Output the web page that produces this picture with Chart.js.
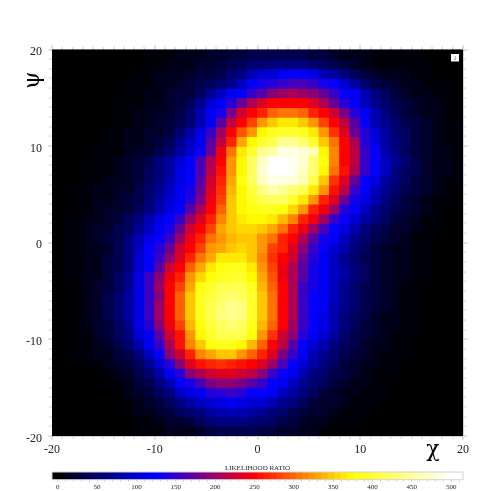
<!DOCTYPE html>
<html><head><meta charset="utf-8">
<script src="https://cdn.jsdelivr.net/npm/chart.js@4"></script>
<style>
html,body{margin:0;padding:0;background:#fff;overflow:hidden}
#a{position:absolute;left:0;top:0}
#b{position:absolute;left:0;top:460px}
</style></head><body>
<canvas id="a" width="498" height="491"></canvas>
<canvas id="b" width="498" height="31"></canvas>
<script>
const chi=[-19.5,-18.5,-17.5,-16.5,-15.5,-14.5,-13.5,-12.5,-11.5,-10.5,-9.5,-8.5,-7.5,-6.5,-5.5,-4.5,-3.5,-2.5,-1.5,-0.5,0.5,1.5,2.5,3.5,4.5,5.5,6.5,7.5,8.5,9.5,10.5,11.5,12.5,13.5,14.5,15.5,16.5,17.5,18.5,19.5];
const psi=[19.5,18.5,17.5,16.5,15.5,14.5,13.5,12.5,11.5,10.5,9.5,8.5,7.5,6.5,5.5,4.5,3.5,2.5,1.5,0.5,-0.5,-1.5,-2.5,-3.5,-4.5,-5.5,-6.5,-7.5,-8.5,-9.5,-10.5,-11.5,-12.5,-13.5,-14.5,-15.5,-16.5,-17.5,-18.5,-19.5];
const likelihood=[
[0,0,0,0,0,0,0,0,0,6,8,8,10,16,16,20,22,28,30,34,36,36,36,36,36,30,28,24,16,14,12,4,4,4,3,3,0,0,0,0],
[0,0,0,0,0,0,0,0,0,6,8,10,14,16,18,24,30,36,42,52,55,58,60,60,58,50,45,38,28,20,15,8,6,6,5,4,2,0,0,0],
[0,0,0,0,0,0,0,0,6,8,10,12,16,20,26,32,40,52,65,85,100,105,122,125,122,108,90,80,60,45,32,22,16,13,10,7,4,0,0,0],
[0,0,0,0,0,0,0,5,8,8,12,15,22,26,35,42,55,72,95,120,135,145,152,158,158,150,135,125,105,75,55,40,28,22,16,12,8,5,3,0],
[0,0,0,0,0,0,0,6,8,10,14,18,26,32,45,70,95,122,130,155,170,195,202,205,200,190,175,155,130,120,85,60,42,30,24,16,12,8,4,0],
[0,0,0,0,0,0,5,6,8,12,16,22,30,42,70,100,122,140,175,205,232,250,250,250,250,235,210,175,140,125,95,70,50,38,28,20,14,10,5,0],
[0,0,0,0,0,0,6,8,10,14,18,25,35,50,85,122,135,185,225,250,270,300,310,310,300,265,250,225,185,140,120,85,60,45,32,24,16,10,6,0],
[0,0,0,0,0,0,6,8,12,16,20,28,40,55,85,122,165,215,250,280,325,350,362,362,345,325,285,250,215,165,125,90,70,50,38,26,18,12,7,3],
[0,0,0,0,0,5,8,10,12,18,22,30,55,80,110,150,200,250,290,325,370,385,395,395,385,362,325,275,235,180,140,100,78,55,42,28,20,13,8,3],
[0,0,0,0,5,6,8,10,15,20,30,45,70,95,122,170,220,265,335,375,400,415,445,445,430,400,350,310,250,205,145,110,80,60,45,30,22,14,8,4],
[0,0,0,0,5,6,8,12,18,25,36,54,78,102,125,180,245,310,365,395,445,455,485,485,475,460,375,315,250,215,150,125,90,65,48,32,24,15,10,5],
[0,0,0,5,5,7,10,18,26,38,58,80,105,125,160,212,252,320,370,425,470,500,500,495,475,430,380,315,250,215,155,125,95,68,50,35,24,16,10,5],
[0,0,0,5,6,8,14,20,29,42,60,82,108,125,160,215,255,325,372,425,475,500,500,495,470,430,375,310,255,205,150,125,92,65,48,34,22,15,10,5],
[0,0,0,6,8,12,16,22,32,45,62,85,110,125,165,225,265,330,378,420,470,490,490,480,460,410,350,275,235,175,130,110,80,58,42,30,20,13,8,4],
[0,0,4,6,10,14,18,25,35,50,68,92,120,135,175,235,275,340,375,405,440,460,445,430,410,362,320,255,215,155,125,95,70,50,38,26,18,11,6,0],
[0,0,5,8,12,16,22,28,38,55,75,100,122,140,185,240,285,345,372,395,415,420,420,400,362,325,265,232,180,135,110,85,60,45,32,22,15,9,5,0],
[0,0,5,8,14,18,24,33,45,62,85,112,130,170,212,250,300,345,372,380,385,385,378,352,325,270,240,200,145,125,95,70,50,38,26,18,12,7,3,0],
[0,3,6,10,15,22,30,42,60,85,108,125,150,200,235,265,315,345,365,372,375,365,340,318,270,240,200,150,125,105,80,58,42,30,22,15,9,5,0,0],
[0,3,6,10,18,25,34,48,70,95,120,135,180,225,250,285,330,345,355,358,350,335,310,270,242,200,160,128,115,85,65,45,35,25,18,12,7,3,0,0],
[0,4,6,10,20,30,40,60,85,108,125,152,200,245,265,310,325,340,350,345,325,310,270,250,210,170,135,125,95,70,52,38,28,20,14,9,5,0,0,0],
[0,5,6,10,15,25,38,60,92,125,145,180,225,250,285,320,335,350,358,348,320,285,262,232,190,150,125,105,85,60,45,32,24,16,10,6,3,0,0,0],
[0,5,5,10,15,27,40,62,100,125,150,195,235,270,310,335,360,365,368,345,318,275,252,222,175,140,120,95,70,55,40,28,20,14,10,6,3,0,0,0],
[0,5,6,10,15,26,40,65,105,130,170,222,250,295,335,365,380,385,388,365,325,285,245,210,170,135,122,95,80,60,45,30,22,15,11,7,3,0,0,0],
[0,4,6,10,15,27,42,70,112,148,190,240,270,320,352,378,392,400,395,370,330,290,245,208,165,135,122,95,75,58,42,30,20,14,10,6,3,0,0,0],
[0,0,6,10,18,30,45,72,112,150,200,250,285,335,378,398,410,415,410,390,340,300,250,205,155,135,122,95,72,55,40,28,20,14,9,5,0,0,0,0],
[0,0,6,10,22,35,50,75,112,148,195,252,295,345,385,405,420,430,425,395,345,305,250,205,155,125,120,92,70,52,38,27,18,13,9,5,0,0,0,0],
[0,0,6,10,22,35,50,75,112,148,198,252,300,350,385,412,430,445,435,395,345,305,250,205,155,125,118,90,68,50,36,26,18,12,8,4,0,0,0,0],
[0,0,6,10,22,35,50,75,112,148,198,250,298,350,385,412,435,445,435,395,345,305,250,205,155,125,115,88,65,48,35,25,17,11,7,3,0,0,0,0],
[0,0,6,10,20,32,48,72,108,145,190,245,285,340,380,405,425,432,425,390,342,300,250,200,150,125,108,85,60,45,32,22,15,10,6,3,0,0,0,0],
[0,0,5,9,18,28,42,66,100,122,170,225,260,320,370,398,410,415,410,378,325,275,228,190,145,122,100,78,55,40,30,20,14,9,5,2,0,0,0,0],
[0,0,4,8,14,22,35,55,85,118,150,205,255,315,345,378,385,388,370,340,300,252,220,165,130,105,90,65,48,34,25,17,11,7,4,0,0,0,0,0],
[0,0,3,6,10,16,26,40,65,95,125,190,228,265,318,335,350,345,325,300,262,232,185,148,122,90,72,55,40,28,20,14,9,5,3,0,0,0,0,0],
[0,0,0,5,8,12,20,30,48,70,105,145,190,235,255,265,272,270,260,252,235,200,160,125,102,75,62,45,32,24,16,10,7,4,0,0,0,0,0,0],
[0,0,0,0,5,8,12,22,36,52,80,118,145,195,205,225,235,232,225,218,190,155,130,120,88,65,50,36,26,20,12,8,5,3,0,0,0,0,0,0],
[0,0,0,0,0,4,6,14,28,40,60,90,122,135,158,185,190,190,185,172,148,125,118,95,72,50,42,30,20,14,10,6,3,0,0,0,0,0,0,0],
[0,0,0,0,0,0,5,12,20,30,45,60,95,108,122,140,145,148,140,128,125,118,92,78,60,42,30,22,16,12,7,4,2,0,0,0,0,0,0,0],
[0,0,0,0,0,0,0,8,14,20,30,42,65,80,95,105,115,118,115,102,100,85,72,60,45,32,25,18,12,8,5,3,0,0,0,0,0,0,0,0],
[0,0,0,0,0,0,0,6,10,14,20,30,45,55,65,80,85,85,85,76,72,60,50,40,32,25,18,12,8,6,3,0,0,0,0,0,0,0,0,0],
[0,0,0,0,0,0,0,0,5,8,10,18,25,32,42,50,58,60,60,55,50,42,36,28,20,15,10,8,5,3,0,0,0,0,0,0,0,0,0,0],
[0,0,0,0,0,0,0,0,5,5,6,10,14,16,24,30,34,36,36,35,30,28,22,18,14,10,8,0,0,0,0,0,0,0,0,0,0,0,0,0]
];
const levels=[-3.2,4.9,13.1,21.3,29.4,37.6,45.8,53.9,62.1,70.2,78.4,86.6,94.7,102.9,111.0,119.2,127.4,135.5,143.7,151.8,160.0,168.2,176.3,184.5,192.6,200.8,209.0,217.1,225.3,233.4,241.6,249.8,257.9,266.1,274.2,282.4,290.6,298.7,306.9,315.0,323.2,331.4,339.5,347.7,355.8,364.0,372.2,380.3,388.5,396.6,404.8,413.0,421.1,429.3,437.4,445.6,453.8,461.9,470.1,478.2,486.4,494.6,502.7,510.9];
const colorStops=[[0,0,0,0],[125,0,0,255],[250,255,0,0],[375,255,255,0],[500,255,255,255]];
const frameColor='#d2d2d2', textColor='#222222', serif='"Liberation Serif",serif';

function rgb(v){
  const c=Math.max(0,Math.min(500,v));
  let i=0; while(i<colorStops.length-2 && c>colorStops[i+1][0]) i++;
  const a=colorStops[i],b=colorStops[i+1],t=(c-a[0])/(b[0]-a[0]);
  return 'rgb('+[1,2,3].map(k=>Math.round(a[k]+(b[k]-a[k])*t)).join(',')+')';
}
function cellColor(v){
  let i=Math.floor((v+7.3)/8.16); i=Math.max(0,Math.min(levels.length-1,i));
  return rgb(levels[i]);
}
const datasets=likelihood.map((row,r)=>({
  label:'psi '+psi[r],
  stack:'cells',
  data:row.map((v,c)=>({x:chi[c],y:[psi[r]-0.5,psi[r]+0.5],v:v})),
  backgroundColor:row.map(cellColor),
  borderWidth:0,
  inflateAmount:0.5
}));
function axis(position,step,len,size,weight,labels){
  const horizontal=position==='top'||position==='bottom';
  const o={type:'linear',position:position,axis:horizontal?'x':'y',min:-20,max:20,weight:weight,offset:false,stacked:horizontal,
    afterFit:s=>{ if(horizontal) s.height=size; else s.width=size; },
    border:{display:true,color:frameColor,width:1},
    grid:{drawOnChartArea:false,drawTicks:true,lineWidth:0,tickLength:len,tickColor:frameColor,tickWidth:1,offset:false},
    ticks:{stepSize:step,autoSkip:false,maxRotation:0,display:!!labels,color:textColor,font:{family:serif,size:12},
      padding:horizontal?3:6,labelOffset:horizontal?0:2.5}};
  return o;
}
const annotate={id:'annotate',afterDraw(ch){
  const g=ch.ctx; g.save();
  g.fillStyle='#000'; g.font='22px "DejaVu Serif",serif'; g.textAlign='center'; g.textBaseline='middle';
  g.fillText('\u03c7',433,450);
  g.translate(33,80); g.rotate(-Math.PI/2); g.fillText('\u03c8',0,0);
  g.restore(); g.save();
  const x=455, y=57.5;
  g.fillStyle='#fff'; g.fillRect(x-4,y-3.5,8,7.5);
  g.fillStyle='#555'; g.font='6px '+serif; g.textAlign='center'; g.textBaseline='middle';
  g.fillText('1',x,y+0.5);
  g.restore();
}};
new Chart(document.getElementById('a'),{
  type:'bar',
  data:{datasets:datasets},
  plugins:[annotate],
  options:{responsive:false,animation:false,events:[],
    layout:{padding:0},
    barPercentage:1,categoryPercentage:1,
    plugins:{legend:{display:false},tooltip:{enabled:false},title:{display:false}},
    scales:{
      x:axis('bottom',10,4,55,1,true),
      xb:axis('bottom',1,3,0,0,false),
      xt:axis('top',10,5,49.5,1,false),
      xs:axis('top',1,3,0,0,false),
      y:axis('left',10,4,52,1,true),
      yl:axis('left',1,3,0,0,false),
      yr:axis('right',10,5,35,1,false),
      ys:axis('right',1,3,0,0,false)
    }
  }
});
const barFrame={id:'barFrame',afterDatasetsDraw(ch){
  const a=ch.chartArea,g=ch.ctx; g.save(); g.strokeStyle=frameColor; g.lineWidth=1;
  g.strokeRect(a.left,a.top,a.right-a.left,a.bottom-a.top); g.restore();
}};
new Chart(document.getElementById('b'),{
  type:'bar',
  data:{datasets:[{label:'LIKELIHOOD RATIO',
    data:levels.map(v=>({x:v,y:1})),
    backgroundColor:levels.map(rgb),borderWidth:0,inflateAmount:0.5}]},
  plugins:[barFrame],
  options:{responsive:false,animation:false,events:[],
    layout:{padding:{left:52,right:35}},
    barPercentage:1,categoryPercentage:1,
    plugins:{legend:{display:false},tooltip:{enabled:false},
      title:{display:true,text:'LIKELIHOOD RATIO',color:textColor,font:{family:serif,size:7,weight:'normal',lineHeight:1.2},padding:{top:3.5,bottom:0.1}}},
    scales:{
      x:{type:'linear',min:-7.3,max:515,offset:false,
        afterFit:s=>{s.height=11.3;},
        border:{display:false},
        grid:{drawOnChartArea:false,tickLength:2,tickColor:frameColor,offset:false},
        ticks:{stepSize:10,includeBounds:false,autoSkip:false,maxRotation:0,padding:1,color:textColor,font:{family:serif,size:7},
          callback:v=>v%50===0?String(v):''}},
      y:{display:false,min:0,max:1}
    }
  }
});
</script>
</body></html>
